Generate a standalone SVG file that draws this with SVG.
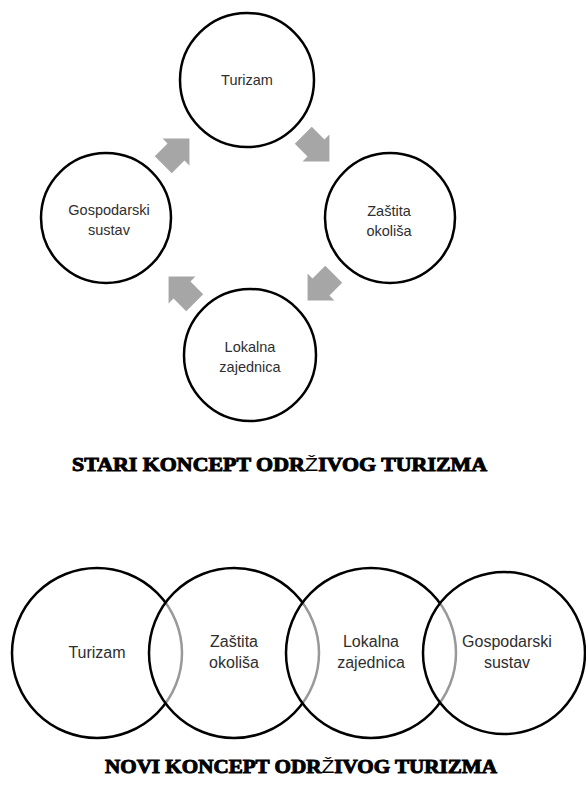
<svg xmlns="http://www.w3.org/2000/svg" width="586" height="794" viewBox="0 0 586 794">
<style>
.c{fill:#fff;stroke:#000;stroke-width:2.5}
.v{fill:#fff;fill-opacity:0.6;stroke:#000;stroke-width:2.5}
.t{font-family:"Liberation Sans","Noto Sans",sans-serif;font-size:14.5px;fill:#2e2e2e;text-anchor:middle}
.t2{font-family:"Liberation Sans","Noto Sans",sans-serif;font-size:16px;fill:#2e2e2e;text-anchor:middle}
.h{font-family:"Liberation Serif",serif;font-weight:bold;font-size:18px;fill:#000;stroke:#000;stroke-width:0.9}
.z{font-family:"Liberation Sans",sans-serif;font-weight:normal;stroke:none}
.a{fill:#a6a6a6}
</style>
<defs>
<polygon id="arr" points="-18,-12 0,-12 0,-19 19,0 0,19 0,12 -18,12"/>
</defs>
<g id="turizam1"><circle class="c" cx="247" cy="80" r="67"/><text class="t" x="247" y="85">Turizam</text></g>
<g id="zastita1"><circle class="c" cx="390" cy="218" r="65"/><text class="t" x="389" y="216">Zaštita</text><text class="t" x="389" y="236">okoliša</text></g>
<g id="lokalna1"><circle class="c" cx="250" cy="355" r="66"/><text class="t" x="250" y="352">Lokalna</text><text class="t" x="250" y="372">zajednica</text></g>
<g id="gospodarski1"><circle class="c" cx="106" cy="218" r="65"/><text class="t" x="109" y="215">Gospodarski</text><text class="t" x="109" y="235">sustav</text></g>
<g id="connectors">
<use href="#arr" class="a" transform="translate(176,152) rotate(-45)"/>
<use href="#arr" class="a" transform="translate(316,148) rotate(45)"/>
<use href="#arr" class="a" transform="translate(321,287) rotate(135)"/>
<use href="#arr" class="a" transform="translate(182,290) rotate(225)"/>
</g>
<text id="title1" class="h" x="72" y="471" textLength="415" lengthAdjust="spacingAndGlyphs">STARI KONCEPT ODR<tspan class="z">Ž</tspan>IVOG TURIZMA</text>
<g id="turizam2"><circle class="v" cx="97" cy="653" r="85"/><text class="t2" x="97" y="658">Turizam</text></g>
<g id="zastita2"><circle class="v" cx="234" cy="653" r="85"/><text class="t2" x="234" y="647">Zaštita</text><text class="t2" x="234" y="668">okoliša</text></g>
<g id="lokalna2"><circle class="v" cx="371" cy="653" r="85"/><text class="t2" x="371" y="647">Lokalna</text><text class="t2" x="371" y="668">zajednica</text></g>
<g id="gospodarski2"><circle class="v" cx="504" cy="653" r="81"/><text class="t2" x="507" y="647">Gospodarski</text><text class="t2" x="507" y="668">sustav</text></g>
<text id="title2" class="h" x="105" y="773" textLength="392" lengthAdjust="spacingAndGlyphs">NOVI KONCEPT ODR<tspan class="z">Ž</tspan>IVOG TURIZMA</text>
</svg>
